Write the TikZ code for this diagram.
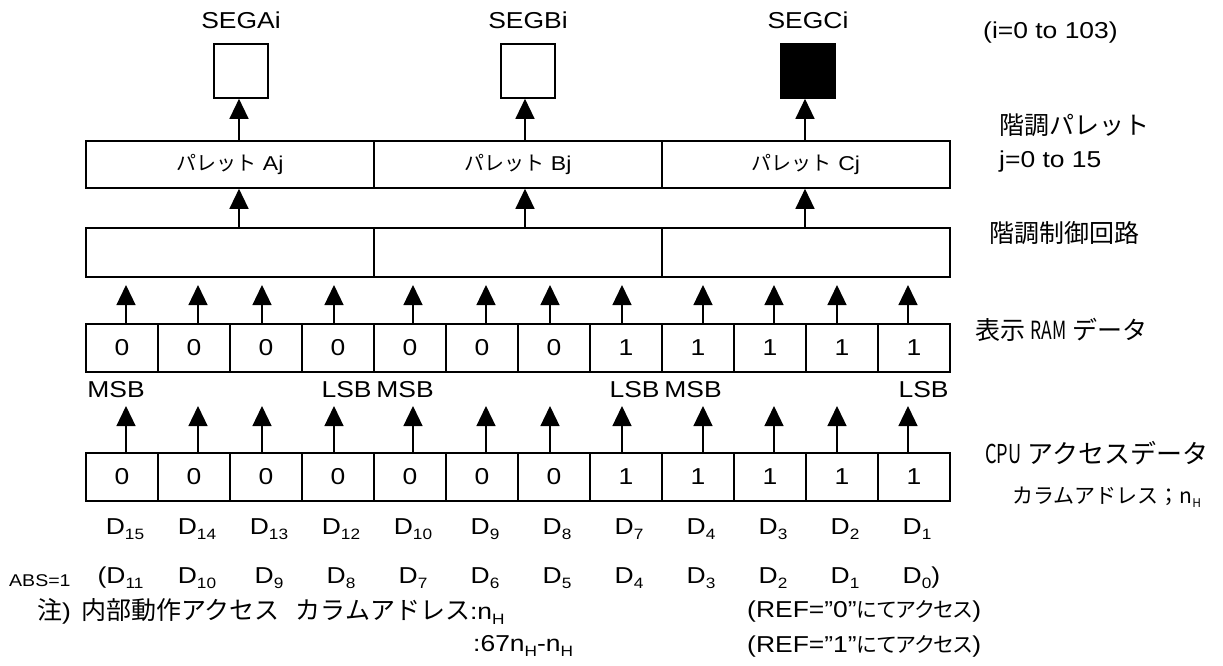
\documentclass[tikz,border=0pt]{standalone}
\usepackage{graphicx}
\usepackage{fontspec}
\setmainfont{Liberation Sans}[FakeStretch=1.15]
\newfontfamily\jp{Noto Sans CJK JP}
\newfontfamily\jpp{Noto Sans CJK JP}[RawFeature=+palt]
\usetikzlibrary{arrows.meta}
\newcommand{\mysub}[1]{\raisebox{-0.22em}{\fontsize{15}{15}\selectfont #1}}
\newcommand{\hw}[1]{\scalebox{0.7}[1]{#1}}
\newcommand{\lat}{\rmfamily\fontsize{23}{27}\selectfont}
\tikzset{
  lbl/.style={font=\fontsize{23}{27}\selectfont, inner sep=0pt},
  jlbl/.style={font=\jp\fontsize{25}{30}\selectfont, inner sep=0pt, anchor=west},
  cell/.style={draw, line width=1.6pt, minimum width=72pt, minimum height=48pt, inner sep=0pt, font=\fontsize{23}{27}\selectfont},
  pal/.style={draw, line width=1.6pt, minimum width=288pt, minimum height=47pt, inner sep=0pt, font=\fontsize{20}{24}\selectfont},
  segbox/.style={draw, line width=1.6pt, minimum width=54pt, minimum height=54pt, inner sep=0pt},
  arr/.style={line width=1.3pt, -{Triangle[length=20pt,width=19pt]}},
}
\begin{document}
\begin{tikzpicture}[x=1pt,y=-1pt]
\useasboundingbox (0,0) rectangle (1223,665);
% segment outputs
\node[lbl] (segAt) at (241,20) {SEGAi};
\node[lbl] (segBt) at (528,20) {SEGBi};
\node[lbl] (segCt) at (808,20) {SEGCi};
\node[segbox] (segA) at (241,71) {};
\node[segbox] (segB) at (528,71) {};
\node[segbox, fill=black] (segC) at (808,71) {};
\node[lbl, anchor=west] (irange) at (983,33) {(i=0 to 103)};
% palettes
\node[pal] (palA) at (230,164.5) {{\jp パレット}\ Aj};
\node[pal] (palB) at (518,164.5) {{\jp パレット}\ Bj};
\node[pal] (palC) at (806,164.5) {{\jp パレット}\ Cj};
% control circuit
\node[pal, minimum height=49pt] (ctlA) at (230,252.5) {};
\node[pal, minimum height=49pt] (ctlB) at (518,252.5) {};
\node[pal, minimum height=49pt] (ctlC) at (806,252.5) {};
% vertical arrows palette/control
\coordinate (xa) at (239,0);
\coordinate (xb) at (525,0);
\coordinate (xc) at (805,0);
\draw[arr] (palA.north -| xa) -- (segA.south -| xa);
\draw[arr] (palB.north -| xb) -- (segB.south -| xb);
\draw[arr] (palC.north -| xc) -- (segC.south -| xc);
\draw[arr] (ctlA.north -| xa) -- (palA.south -| xa);
\draw[arr] (ctlB.north -| xb) -- (palB.south -| xb);
\draw[arr] (ctlC.north -| xc) -- (palC.south -| xc);
% bit cells
\foreach \k/\x/\v/\d in {1/126/0/15, 2/198/0/14, 3/262/0/13, 4/334/0/12, 5/413/0/10, 6/486/0/9, 7/550/0/8, 8/622/1/7, 9/703/1/4, 10/774/1/3, 11/837/1/2, 12/908/1/1}{
  \node[cell] (ram\k) at ({86+72*(\k-0.5)},348) {\v};
  \node[cell] (cpu\k) at ({86+72*(\k-0.5)},477) {\v};
  \coordinate (rt\k) at (\x,285);
  \coordinate (ct\k) at (\x,406);
  \draw[arr] (ram\k.north -| rt\k) -- (rt\k);
  \draw[arr] (cpu\k.north -| ct\k) -- (ct\k);
  \node[lbl] (dn\k) at ({89+72*(\k-0.5)},529) {D\mysub{\d}};
}
\foreach \k/\e in {2/10, 3/9, 4/8, 5/7, 6/6, 7/5, 8/4, 9/3, 10/2, 11/1}{
  \node[lbl] (da\k) at ({89+72*(\k-0.5)},578) {D\mysub{\e}};
}
\node[lbl] (da1) at ({89+72*0.5},578) {\llap{(}D\mysub{11}};
\node[lbl] (da12) at ({89+72*11.5},578) {D\mysub{0}\rlap{)}};
\node[lbl, font=\fontsize{17}{19}\selectfont, anchor=west] (abs) at (9,581) {ABS=1};
% MSB / LSB
\node[lbl, anchor=west] (msb1) at ([xshift=2pt]ram1.west |- 0,390) {MSB};
\node[lbl, anchor=east] (lsb1) at ([xshift=-3pt]ram4.east |- 0,390) {LSB};
\node[lbl, anchor=west] (msb2) at ([xshift=3pt]ram5.west |- 0,390) {MSB};
\node[lbl, anchor=east] (lsb2) at ([xshift=-3pt]ram8.east |- 0,390) {LSB};
\node[lbl, anchor=west] (msb3) at ([xshift=3pt]ram9.west |- 0,390) {MSB};
\node[lbl, anchor=east] (lsb3) at ([xshift=-2pt]ram12.east |- 0,390) {LSB};
% right side labels
\node[jlbl] (lpal) at (999,125) {階調パレット};
\node[lbl, anchor=west] (lj) at (999,162) {j=0 to 15};
\node[jlbl] (lctl) at (989,233) {階調制御回路};
\node[jlbl] (lram) at (975,330) {表示 \hw{RAM} データ};
\node[jlbl, font=\jp\fontsize{26}{30}\selectfont] (lcpu) at (985,453) {\hw{CPU} アクセスデータ};
\node[jlbl, font=\jp\fontsize{21}{24}\selectfont] (lcol) at (1012,497) {カラムアドレス；n\raisebox{-0.2em}{\fontsize{12}{12}\selectfont H}};
% notes
\node[jlbl] (note1) at (37,611) {注{\lat )}\hspace{10pt}内部動作アクセス\hspace{16pt}カラムアドレス{\lat :n\mysub{H}}};
\node[lbl, anchor=west] (note2) at (473,646) {:67n\mysub{H}-n\mysub{H}};
\node[jlbl, font=\jpp\fontsize{21}{27}\selectfont] (ref0) at (747,611) {{\lat (REF=”0”}にてアクセス{\lat )}};
\node[jlbl, font=\jpp\fontsize{21}{27}\selectfont] (ref1) at (747,646) {{\lat (REF=”1”}にてアクセス{\lat )}};
\end{tikzpicture}
\end{document}
